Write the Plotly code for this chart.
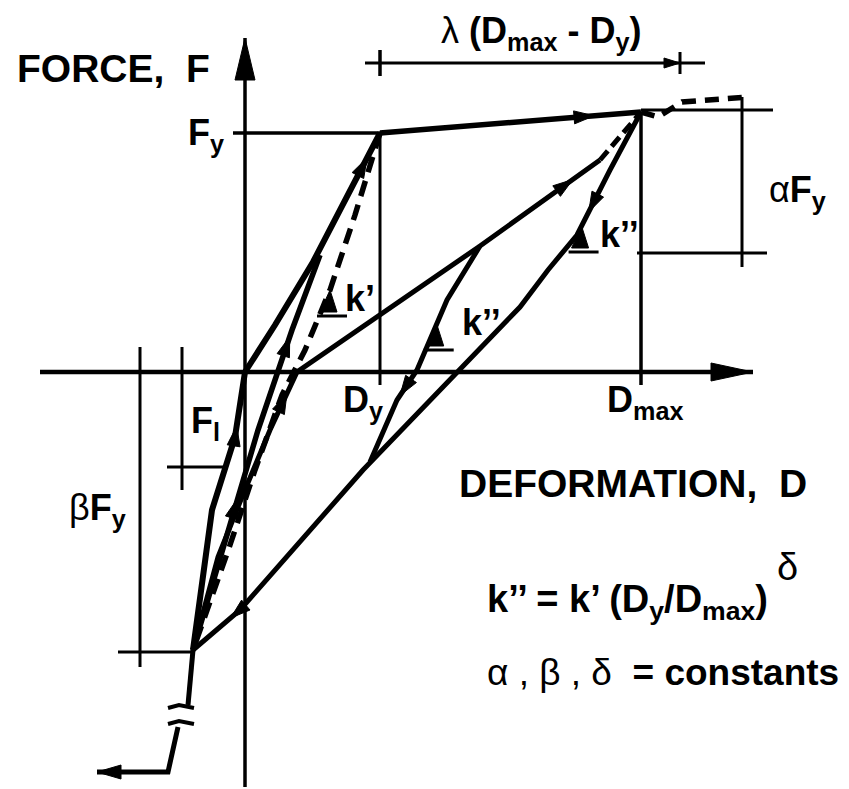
import numpy as np
import plotly.graph_objects as go

# ---- Model quantities (deformation D, force F, drawing units) ----
D_Y, F_Y = 135, 239          # yield point
D_MAX, F_MAX = 396, 260      # maximum excursion
PIVOT_D, PIVOT_F = -52, -278 # pivot point at -beta*Fy

# Initial loading: from pivot through origin up to yield
initial_D = [PIVOT_D, -33, -10, 0, 30, 68, D_Y]
initial_F = [PIVOT_F, -138, -65, 0, 47, 110, F_Y]

# Post-yield branch up to Dmax
postyield_D = [D_Y, D_MAX]
postyield_F = [F_Y, F_MAX]

# Continuation beyond Dmax (dashed)
beyond_D = [D_MAX, 413, 437, 465, 502]
beyond_F = [F_MAX, 255, 270, 272, 275]

# Second reloading branch from pivot that merges into the initial branch
reload2_D = [PIVOT_D, -20, 13, 30, 47, 75]
reload2_F = [PIVOT_F, -168, -58, -8, 42, 117]

# Reloading from pivot towards the peak (solid part, then dashed)
reload_D = [PIVOT_D, -27, -3, 25, 52, 235, 355]
reload_F = [PIVOT_F, -185, -125, -58, 0, 126, 212]
reload_end_D = [355, D_MAX]
reload_end_F = [212, F_MAX]

# Unloading from the maximum point down to the pivot (stiffness k'')
unload_D = [D_MAX, 365, 332, 303, 275, 118, -5, PIVOT_D]
unload_F = [F_MAX, 202, 137, 102, 65, -98, -238, PIVOT_F]

# Unloading from the intermediate peak (stiffness k'')
inner_D = [235, 202, 172, 152, 125]
inner_F = [126, 72, 2, -28, -90]

# Elastic unloading line from yield (stiffness k', dashed)
elastic_D = [D_Y, 110, 85, 60, 37, 10, -15, -40, PIVOT_D]
elastic_F = [F_Y, 157, 82, 22, -23, -98, -173, -243, PIVOT_F]

# Tail below the pivot (with break marks)
tail_top_D = [PIVOT_D, -57]
tail_top_F = [PIVOT_F, -333]
tail_bot_D = [-67, -77, -148]
tail_bot_F = [-355, -400, -400]

# Axes extents
X_AXIS = (-205, 508)
Y_AXIS = (-415, 334)

fig = go.Figure()


def line(xs, ys, width=5, dash=None):
    fig.add_trace(go.Scatter(
        x=list(xs), y=list(ys), mode="lines", hoverinfo="skip",
        line=dict(color="black", width=width, dash=dash,
                  shape="linear"),
    ))


def polygon(xs, ys):
    fig.add_trace(go.Scatter(
        x=list(xs), y=list(ys), mode="lines", fill="toself",
        fillcolor="black", line=dict(color="black", width=1),
        hoverinfo="skip",
    ))


def head(tip, direction, length=20, half=6.5):
    u = np.asarray(direction, float)
    u = u / np.hypot(*u)
    n = np.array([-u[1], u[0]])
    tip = np.asarray(tip, float)
    base = tip - u * length
    p1, p2 = base + n * half, base - n * half
    polygon([tip[0], p1[0], p2[0], tip[0]], [tip[1], p1[1], p2[1], tip[1]])


def arrow_on(xs, ys, frac, **kw):
    """Arrowhead placed at a fraction of the path length, pointing along it."""
    pts = np.column_stack([xs, ys]).astype(float)
    seg = np.diff(pts, axis=0)
    seglen = np.hypot(seg[:, 0], seg[:, 1])
    cum = np.concatenate([[0], np.cumsum(seglen)])
    s = frac * cum[-1]
    i = int(min(np.searchsorted(cum, s, side="right") - 1, len(seg) - 1))
    t = (s - cum[i]) / seglen[i]
    tip = pts[i] + t * seg[i]
    head(tip, seg[i], **kw)


def slope_mark(xs, ys, level, size=22):
    """Small filled slope triangle sitting on a branch at force 'level'."""
    pts = np.column_stack([xs, ys]).astype(float)
    for a, b in zip(pts[:-1], pts[1:]):
        lo, hi = sorted([a[1], b[1]])
        if lo <= level <= hi and a[1] != b[1]:
            d = a[0] + (level - a[1]) * (b[0] - a[0]) / (b[1] - a[1])
            break
    polygon([d - 10, d, d + 7, d - 10], [level - size, level, level - size, level - size])
    line([d - 13, d + 17], [level - size - 4, level - size - 4], width=3)


# ---- axes ----
line(X_AXIS, [0, 0], width=4.5)
line([0, 0], Y_AXIS, width=3.5)
head((X_AXIS[1], 0), (1, 0), length=42, half=9)
head((0, Y_AXIS[1]), (0, 1), length=42, half=10)

# ---- reference lines ----
line([-12, D_Y], [F_Y, F_Y], width=3.5)               # Fy level
line([D_Y, D_Y], [F_Y, -13], width=3)                 # Dy
line([D_MAX, D_MAX], [F_MAX, -13], width=3.5)         # Dmax

# lambda (Dmax - Dy) dimension
line([120, 460], [309, 309], width=3)
line([D_Y, D_Y], [296, 322], width=3.5)
line([435, 435], [298, 320], width=3)
head((435, 309), (1, 0), length=16, half=5)

# alpha*Fy dimension
line([D_MAX, 528], [262, 262], width=3)
line([392, 522], [119, 119], width=3)
line([497, 497], [275, 105], width=3)

# beta*Fy dimension
line([-105, -105], [25, -295], width=3)
line([-127, PIVOT_D], [-280, -280], width=3)

# F_l dimension
line([-63, -63], [25, -118], width=3)
line([-78, -20], [-95, -95], width=3)

# ---- hysteresis branches ----
line(initial_D, initial_F, width=6)
line(postyield_D, postyield_F, width=5.5)
line(beyond_D, beyond_F, width=5.5, dash="14px,9px")
line(reload2_D, reload2_F, width=5.5)
line(reload_D, reload_F, width=5)
line(reload_end_D, reload_end_F, width=5, dash="12px,6px")
line(unload_D, unload_F, width=5)
line(inner_D, inner_F, width=5)
line(elastic_D, elastic_F, width=5.5, dash="16px,9px")
line(tail_top_D, tail_top_F, width=5)
line(tail_bot_D, tail_bot_F, width=5)
head((-148, -400), (-1, 0), length=24, half=7)
# break marks on the tail
line([-77, -66, -51], [-336, -333, -336], width=4)
line([-77, -66, -51], [-352, -349, -352], width=4)

# ---- direction arrows ----
arrow_on(initial_D, initial_F, 0.41)
arrow_on(initial_D, initial_F, 0.95)
arrow_on(postyield_D, postyield_F, 0.82)
arrow_on(unload_D, unload_F, 0.16)
arrow_on(unload_D, unload_F, 0.93)
arrow_on(reload_D, reload_F, 0.41)
arrow_on(reload_D, reload_F, 0.95)
arrow_on(reload2_D, reload2_F, 0.38)
arrow_on(reload2_D, reload2_F, 0.79)
arrow_on(inner_D, inner_F, 0.70)

# ---- slope markers ----
slope_mark(elastic_D, elastic_F, 82)
slope_mark(inner_D, inner_F, 48)
slope_mark(unload_D, unload_F, 146)

# ---- text ----
FONT = "Liberation Sans, Arial, Helvetica, sans-serif"


def label(text, d, f, size=36, xanchor="center", yanchor="middle"):
    fig.add_annotation(x=d, y=f, xref="x", yref="y", text=text,
                       showarrow=False, xanchor=xanchor, yanchor=yanchor,
                       font=dict(family=FONT, size=size, color="black"))


label("<b>FORCE,  F</b>", -230, 304, size=39, xanchor="left")
label("<b>F<sub>y</sub></b>", -39, 237)
label("λ <b>(D<sub>max</sub> - D<sub>y</sub>)</b>", 296, 339)
label("α<b>F<sub>y</sub></b>", 552, 180)
label("<b>k’</b>", 115, 74)
label("<b>k’’</b>", 236, 50)
label("<b>k’’</b>", 374, 138)
label("<b>D<sub>y</sub></b>", 118, -30)
label("<b>D<sub>max</sub></b>", 400, -30)
label("<b>F<sub>l</sub></b>", -40, -51)
label("β<b>F<sub>y</sub></b>", -148, -138)
label("<b>DEFORMATION,  D</b>", 212, -111, size=39, xanchor="left")
label("<b>k’’ = k’ (D<sub>y</sub>/D<sub>max</sub>)</b>", 240, -230, size=38, xanchor="left")
label("δ", 542, -195, size=38)
label("α , β , δ  <b>= constants</b>", 240, -300, size=37, xanchor="left")

fig.update_layout(
    width=849, height=789,
    margin=dict(l=0, r=0, t=0, b=0),
    paper_bgcolor="white", plot_bgcolor="white",
    showlegend=False,
    xaxis=dict(range=[-245, 604], visible=False, fixedrange=True),
    yaxis=dict(range=[-417, 372], visible=False, fixedrange=True),
)

fig.write_html("out.html")
